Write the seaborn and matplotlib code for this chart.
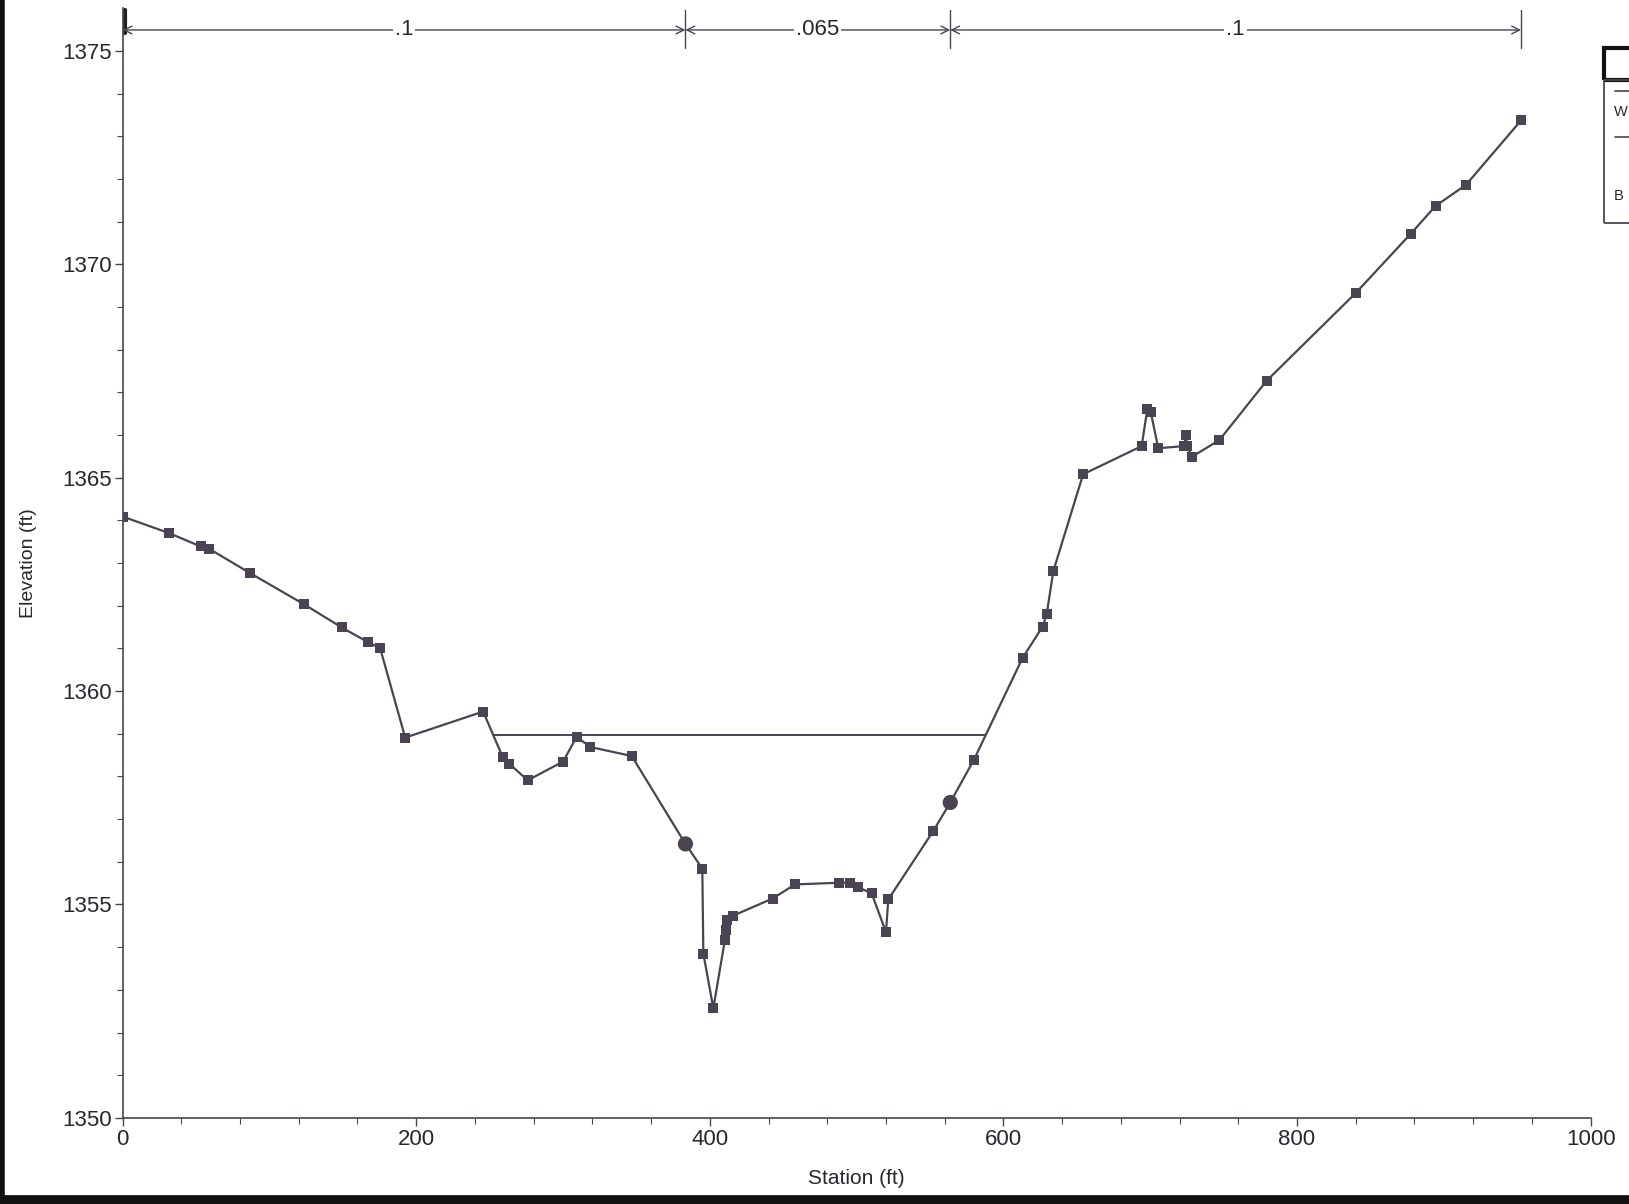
import numpy as np
import pandas as pd
import matplotlib
matplotlib.use("Agg")
import matplotlib.pyplot as plt
from matplotlib.lines import Line2D
from matplotlib.patches import Rectangle
import seaborn as sns

# ---------------- data ----------------
station = [0, 31.8, 53.1, 58.7, 87.0, 123.8, 149.3, 167.0, 175.5, 192.5,
           245.6, 259.0, 263.3, 276.0, 300.1, 309.3, 318.5, 346.8, 383.4, 394.9,
           395.6, 402.4, 410.3, 411.0, 411.5, 416.0, 442.8, 458.0, 488.2, 495.5,
           500.7, 510.3, 520.0, 521.6, 552.2, 563.8, 579.9, 613.1, 626.7, 629.5,
           634.0, 654.3, 694.2, 698.0, 700.3, 705.5, 723.0, 724.4, 725.0, 728.4,
           747.1, 779.3, 840.1, 877.6, 894.5, 915.1, 952.6]
elevation = [1364.09, 1363.70, 1363.39, 1363.34, 1362.76, 1362.03, 1361.49, 1361.15, 1361.00, 1358.91,
             1359.52, 1358.45, 1358.30, 1357.91, 1358.35, 1358.93, 1358.69, 1358.48, 1356.42, 1355.84,
             1353.85, 1352.57, 1354.17, 1354.40, 1354.64, 1354.74, 1355.14, 1355.47, 1355.51, 1355.51,
             1355.41, 1355.26, 1354.35, 1355.12, 1356.72, 1357.39, 1358.39, 1360.78, 1361.51, 1361.80,
             1362.81, 1365.08, 1365.74, 1366.60, 1366.55, 1365.69, 1365.74, 1366.00, 1365.75, 1365.49,
             1365.88, 1367.27, 1369.33, 1370.72, 1371.37, 1371.86, 1373.37]

bank_station = [383.4, 563.8]
bank_elev = [1356.42, 1357.39]

ws_station = [252.7, 587.4]
ws_elev = [1358.96, 1358.96]

n_breaks = [0, 383.4, 563.8, 952.6]
n_values = [".1", ".065", ".1"]

x_ticks = [0, 200, 400, 600, 800, 1000]
y_ticks = [1350, 1355, 1360, 1365, 1370, 1375]

legend_letters = ["W", "B"]

# ---------------- style ----------------
sns.set_style("white")
FONT = ["Liberation Sans Narrow", "Liberation Sans", "DejaVu Sans"]
plt.rcParams["font.family"] = FONT
INK = "#4a4452"
TXT = "#2a2630"

W, H = 1629, 1204
fig = plt.figure(figsize=(W / 100, H / 100), dpi=100)
ax = fig.add_axes([122.6 / W, 1 - 1117.9 / H, (1590.6 - 122.6) / W, (1117.9 - 8.2) / H])

ground = pd.DataFrame({"Station": station, "Elevation": elevation})
sns.lineplot(data=ground, x="Station", y="Elevation", sort=False, estimator=None,
             color=INK, lw=1.6, marker="s", markersize=7, markeredgewidth=0,
             markerfacecolor=INK, ax=ax)

ws = pd.DataFrame({"Station": ws_station, "Elevation": ws_elev})
sns.lineplot(data=ws, x="Station", y="Elevation", sort=False, estimator=None,
             color=INK, lw=1.4, ax=ax)

banks = pd.DataFrame({"Station": bank_station, "Elevation": bank_elev})
sns.scatterplot(data=banks, x="Station", y="Elevation", color=INK, s=120,
                edgecolor="none", zorder=5, ax=ax)

ax.set_xlim(0, 1000)
ax.set_ylim(1350, 1376)
ax.set_xticks(x_ticks)
ax.set_xticklabels([str(v) for v in x_ticks])
ax.set_yticks(y_ticks)
ax.set_yticklabels([str(v) for v in y_ticks])
ax.set_xticks(np.arange(0, 1001, 40), minor=True)
ax.set_yticks(np.arange(1350, 1376, 1), minor=True)
ax.tick_params(axis="both", which="major", direction="out", length=6, width=1,
               color=INK, labelsize=16, labelcolor=TXT, pad=2)
ax.tick_params(axis="both", which="minor", direction="out", length=4, width=0.8, color=INK)
ax.tick_params(axis="x", bottom=True, which="both")
ax.tick_params(axis="y", left=True, which="both")

for s in ["top", "right"]:
    ax.spines[s].set_visible(False)
for s in ["left", "bottom"]:
    ax.spines[s].set_color(INK)
    ax.spines[s].set_linewidth(1.2)

ax.set_xlabel("Station (ft)", fontsize=15, color=TXT, labelpad=14)
ax.set_ylabel("Elevation (ft)", fontsize=14, color=TXT, labelpad=18)

# Manning's n bar along the top
y_arrow = 1375.49
for i, lab in enumerate(n_values):
    x0, x1 = n_breaks[i], n_breaks[i + 1]
    ax.annotate("", xy=(x0, y_arrow), xytext=(x1, y_arrow),
                arrowprops=dict(arrowstyle="<->", color=INK, lw=1.0,
                                mutation_scale=14, shrinkA=0, shrinkB=0),
                annotation_clip=False)
    ax.text((x0 + x1) / 2, y_arrow, lab, ha="center", va="center", fontsize=16,
            color=TXT, bbox=dict(facecolor="white", edgecolor="none", pad=1.5),
            clip_on=False, zorder=6)
for xb in n_breaks[1:]:
    ax.plot([xb, xb], [1375.07, 1375.96], color=INK, lw=1.0, clip_on=False)
ax.plot([1.5, 1.5], [1375.42, 1375.96], color="#222", lw=3.0, clip_on=False)

# partially visible legend box at the right edge (cut off by the page)
def fx(px):
    return px / W
def fy(py):
    return 1 - py / H
fig.add_artist(Rectangle((fx(1604), fy(80)), fx(60), fy(48) - fy(80),
                         transform=fig.transFigure, fill=False, lw=3, edgecolor="#111"))
fig.add_artist(Rectangle((fx(1604), fy(223)), fx(60), fy(80) - fy(223),
                         transform=fig.transFigure, fill=False, lw=1.3, edgecolor=INK))
fig.add_artist(Line2D([fx(1615), fx(1640)], [fy(91), fy(91)], transform=fig.transFigure,
                      color=INK, lw=1.2))
fig.add_artist(Line2D([fx(1615), fx(1640)], [fy(137), fy(137)], transform=fig.transFigure,
                      color=INK, lw=1.2))
fig.text(fx(1614), fy(112), legend_letters[0], fontsize=10.5, va="center", ha="left", color=TXT)
fig.text(fx(1614), fy(196), legend_letters[1], fontsize=10.5, va="center", ha="left", color=TXT)

# scan border lines
fig.add_artist(Line2D([fx(2), fx(2)], [0, 1], transform=fig.transFigure, color="#111", lw=4))
fig.add_artist(Line2D([0, 1], [fy(1200), fy(1200)], transform=fig.transFigure, color="#111", lw=7))

fig.savefig("out.png", dpi=100, facecolor="white")
